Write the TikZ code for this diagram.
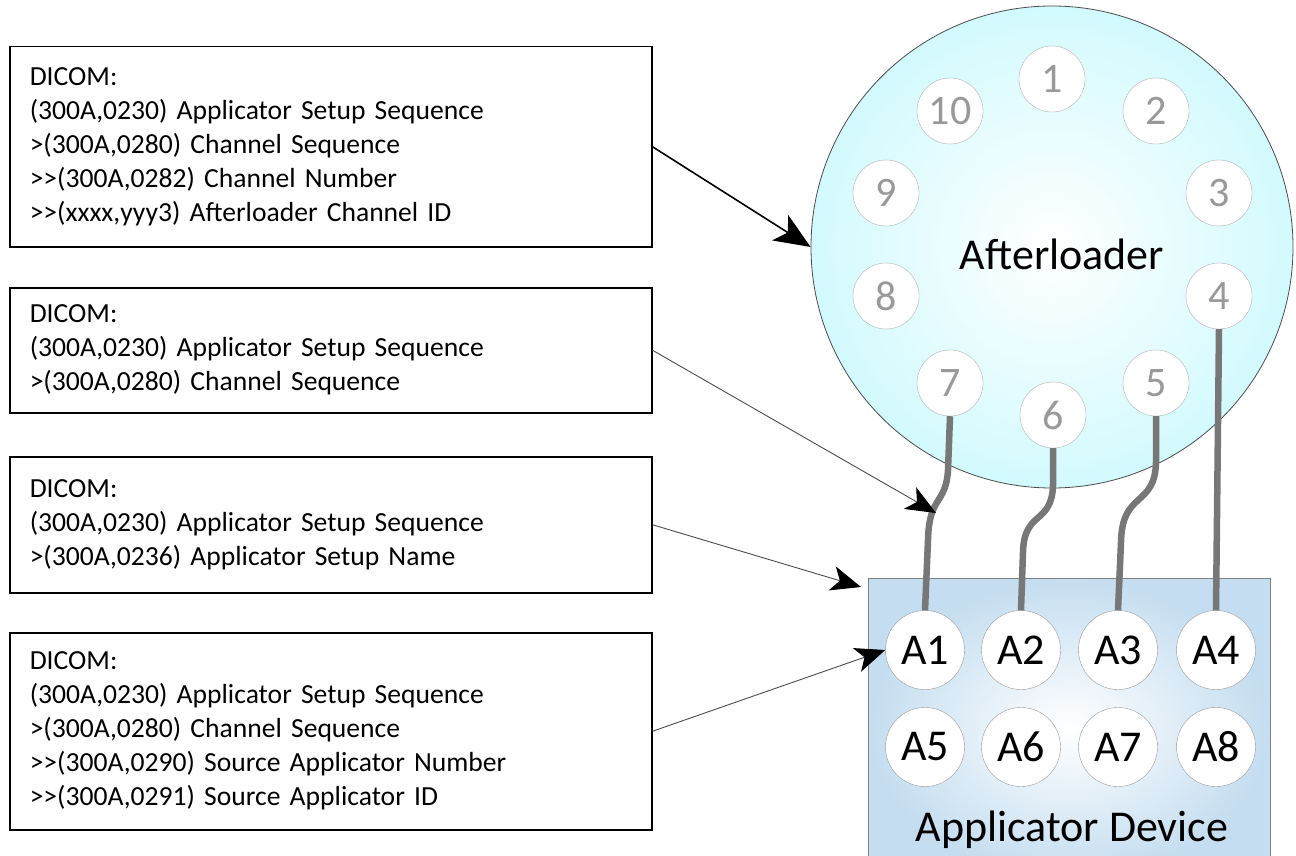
\documentclass[tikz,border=0pt]{standalone}
\usepackage{fontspec}
\setmainfont{Carlito}
\usetikzlibrary{arrows.meta}
\definecolor{aftcyan}{HTML}{D2FAFE}
\definecolor{devblue}{HTML}{C4DDF0}
\definecolor{tubegray}{HTML}{777777}

\begin{document}
\begin{tikzpicture}[x=1pt, y=-1pt]
	\tikzstyle{dicom} = [draw, line width=1.5pt, minimum width=642pt, inner xsep=20pt, inner ysep=0pt, text width=602pt, align=left, anchor=north west, font=\fontsize{27.6}{34}\selectfont]
	\tikzstyle{port} = [circle, draw=black!30, fill=white, minimum size=66pt, inner sep=0pt, text=black!40, font=\fontsize{42}{42}\selectfont]
	\tikzstyle{slot} = [circle, draw=black!40, fill=white, minimum size=79pt, inner sep=0pt, font=\fontsize{44}{44}\selectfont]
	\tikzstyle{tube} = [draw=tubegray, line width=6.5pt]
	\tikzstyle{link} = [draw=black!70, line width=0.9pt, -{Stealth[length=30pt, width=25pt, inset=8pt, color=black]}]
	\useasboundingbox (0,0) rectangle (1296,856);
	% DICOM attribute boxes
	\node[dicom, minimum height=200pt] (ChannelID) at (9,46) {DICOM:\\(300A,0230) Applicator Setup Sequence\\>(300A,0280) Channel Sequence\\>{}>(300A,0282) Channel Number\\>{}>(xxxx,yyy3) Afterloader Channel ID};
	\node[dicom, minimum height=125pt] (ChannelSeq) at (9,287) {DICOM:\\(300A,0230) Applicator Setup Sequence\\>(300A,0280) Channel Sequence};
	\node[dicom, minimum height=136pt] (SetupName) at (9,456) {DICOM:\\(300A,0230) Applicator Setup Sequence\\>(300A,0236) Applicator Setup Name};
	\node[dicom, minimum height=197pt] (SourceID) at (9,632) {DICOM:\\(300A,0230) Applicator Setup Sequence\\>(300A,0280) Channel Sequence\\>{}>(300A,0290) Source Applicator Number\\>{}>(300A,0291) Source Applicator ID};
	% afterloader with its channels
	\node[circle, minimum size=482pt, draw=black!70, line width=0.8pt, inner color=white, outer color=aftcyan] (Afterloader) at (1052,247) {};
	\node[font=\fontsize{44}{44}\selectfont] (AfterloaderLabel) at (1062,254) {Afterloader};
	\node[port] (Ch1) at (1052,79) {1};
	\node[port] (Ch2) at (1156,111) {2};
	\node[port] (Ch3) at (1219,193) {3};
	\node[port] (Ch4) at (1219,296) {4};
	\node[port] (Ch5) at (1156,383) {5};
	\node[port] (Ch6) at (1053,415) {6};
	\node[port] (Ch7) at (950,383) {7};
	\node[port] (Ch8) at (886,296) {8};
	\node[port] (Ch9) at (886,193) {9};
	\node[port] (Ch10) at (950,111) {10};
	% applicator device
	\node[rectangle, minimum width=402pt, minimum height=300pt, inner sep=0pt, anchor=north west, draw=black!50, line width=0.8pt, inner color=white, outer color=devblue] (Device) at (868,578) {};
	\node[font=\fontsize{44}{44}\selectfont] (DeviceLabel) at (1072,830) {Applicator Device};
	\node[slot] (A1) at (925,650) {A1};
	\node[slot] (A2) at (1021,650) {A2};
	\node[slot] (A3) at (1118,650) {A3};
	\node[slot] (A4) at (1216,650) {A4};
	\node[slot] (A5) at (925,747) {A5};
	\node[slot] (A6) at (1021,747) {A6};
	\node[slot] (A7) at (1118,747) {A7};
	\node[slot] (A8) at (1216,747) {A8};
	% transfer tubes
	\draw[tube] (Ch7.south) -- (948,470) .. controls (946,505) and (929,495) .. (928,540) -- (A1.north);
	\draw[tube] (Ch6.south) -- (1053,485) .. controls (1052,525) and (1024,510) .. (1023,552) -- (A2.north);
	\draw[tube] (Ch5.south) -- (1156,462) .. controls (1155,508) and (1122,490) .. (1121,542) -- (A3.north);
	\draw[tube] (Ch4.south) -- (A4.north);
	% arrows
	\coordinate (TubeHit) at (936,513);
	\coordinate (DeviceCorner) at (861,587);
	\draw[link, draw=black, line width=1.6pt, -{Stealth[length=36pt, width=30pt, inset=9pt]}] (ChannelID.east) -- (Afterloader.west);
	\draw[link] (ChannelSeq.east) -- (TubeHit);
	\draw[link] (SetupName.east) -- (DeviceCorner);
	\draw[link] (SourceID.east) -- (A1.west);
\end{tikzpicture}
\end{document}
